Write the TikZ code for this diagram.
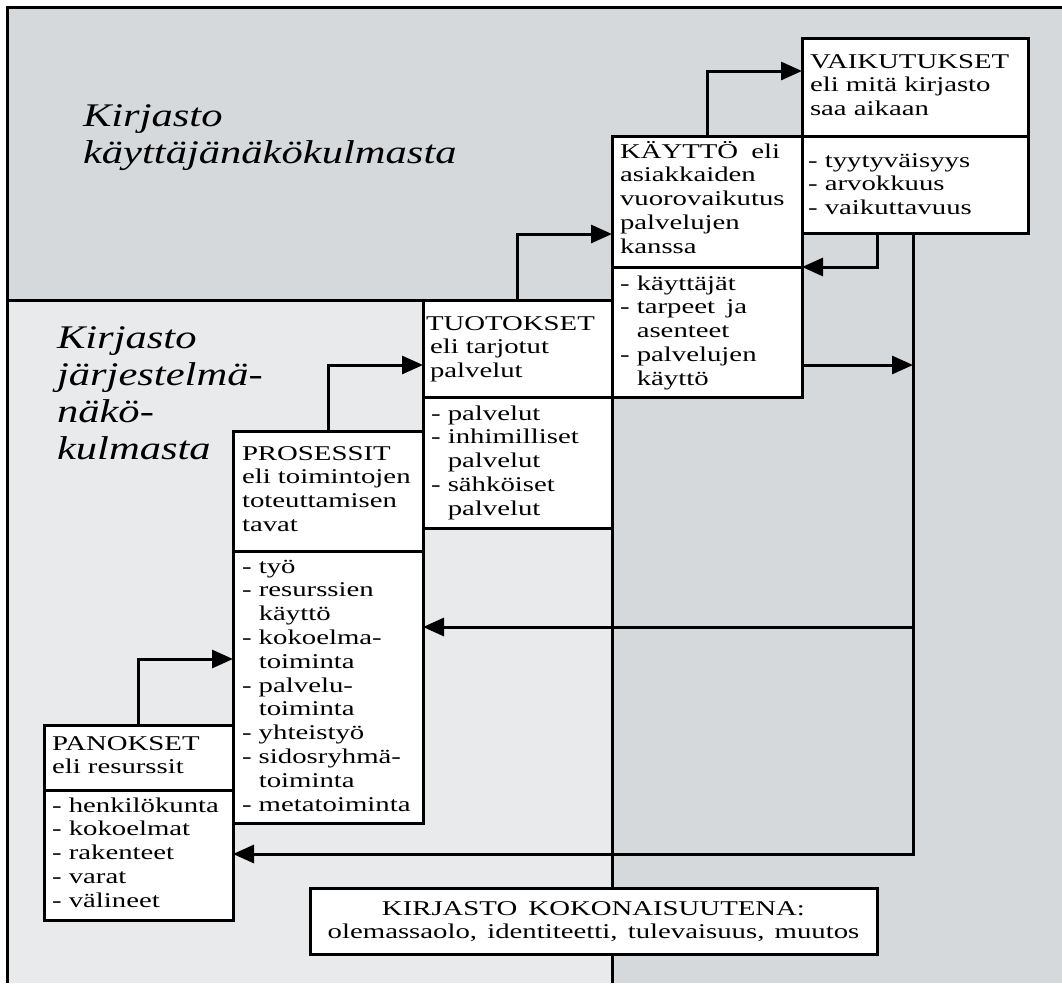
\documentclass[tikz,border=0pt]{standalone}
\usepackage{fontspec}
\setmainfont{Liberation Serif}[FakeStretch=1.37]
\newfontfamily\labfont{Liberation Serif}[FakeStretch=1.29]
\usetikzlibrary{arrows.meta,calc}
\definecolor{bgdark}{RGB}{214,217,220}
\definecolor{bglight}{RGB}{233,234,236}
\newcommand\hind{\phantom{- }}
\begin{document}
\begin{tikzpicture}[x=1pt,y=-1pt,
  box/.style={draw=black, line width=3pt, fill=white, inner sep=0pt, outer sep=0pt, anchor=north west},
  txt/.style={inner sep=0pt, outer sep=0pt, anchor=north west, align=left, font=\fontsize{21}{23.8}\selectfont},
  lab/.style={inner sep=0pt, outer sep=0pt, anchor=north west, align=left, font=\labfont\fontsize{33}{37}\selectfont\itshape},
  arr/.style={line width=3pt, -{Triangle[length=21pt,width=18pt]}},
  ln/.style={line width=3pt}]
\useasboundingbox (0,0) rectangle (1062,983);
\fill[white] (0,0) rectangle (1062,983);
% backgrounds
\fill[bgdark] (7,7) rectangle (1062,300);
\fill[bgdark] (612,300) rectangle (1062,983);
\fill[bglight] (7,300) rectangle (612,983);
\draw[ln] (1062,7) -- (7,7) -- (7,983);
\draw[ln] (7,300) -- (612,300);
\draw[ln] (612,300) -- (612,983);

% boxes
\node[box, minimum width=226pt, minimum height=98pt] (vaiA) at (802,38) {};
\node[box, minimum width=226pt, minimum height=97pt] (vaiB) at (802,136) {};
\node[box, minimum width=190pt, minimum height=131pt] (kayA) at (612,136) {};
\node[box, minimum width=190pt, minimum height=130pt] (kayB) at (612,267) {};
\node[box, minimum width=189pt, minimum height=97pt] (tuoA) at (423,300) {};
\node[box, minimum width=189pt, minimum height=131pt] (tuoB) at (423,397) {};
\node[box, minimum width=190pt, minimum height=120pt] (proA) at (233,431) {};
\node[box, minimum width=190pt, minimum height=272pt] (proB) at (233,551) {};
\node[box, minimum width=189pt, minimum height=65pt] (panA) at (44,725) {};
\node[box, minimum width=189pt, minimum height=130pt] (panB) at (44,790) {};
\node[box, minimum width=567pt, minimum height=66pt] (kir) at (310,888) {};

% connector coordinates
\coordinate (busTop) at ($(vaiB.south west)+(111,0)$);
\coordinate (panIn) at ($(panB.north east)+(0,64)$);
\coordinate (proIn) at ($(proB.north east)+(0,76)$);
\coordinate (kayOut) at ($(kayB.north east)+(0,98)$);

% connectors
\draw[arr] (panA.north) |- ($(proB.north west)+(0,108)$);
\draw[arr] (proA.north) |- ($(tuoA.north west)+(0,65)$);
\draw[arr] (tuoA.north) |- ($(kayA.north west)+(0,98)$);
\draw[arr] (kayA.north) |- ($(vaiA.north west)+(0,33)$);
\draw[arr] ($(vaiB.south west)+(75,0)$) |- (kayA.south east);
\draw[arr] (busTop) |- (panIn);
\draw[arr] (busTop |- proIn) -- (proIn);
\draw[arr] (kayOut) -- (kayOut -| busTop);

% texts
\node[txt] (vaiAt) at ([xshift=8pt]vaiA.north west) {\rule{0pt}{30pt}VAIKUTUKSET\\eli mitä kirjasto\\saa aikaan};
\node[txt] (vaiBt) at ([xshift=6pt]vaiB.north west) {\rule{0pt}{31pt}- tyytyväisyys\\- arvokkuus\\- vaikuttavuus};
\node[txt] (kayAt) at ([xshift=8pt]kayA.north west) {\rule{0pt}{22pt}KÄYTTÖ\hspace{6pt} eli\\asiakkaiden\\vuorovaikutus\\palvelujen\\kanssa};
\node[txt] (kayBt) at ([xshift=8pt]kayB.north west) {\rule{0pt}{23pt}- käyttäjät\\- tarpeet\hspace{4pt} ja\\\hind asenteet\\- palvelujen\\\hind käyttö};
\node[txt] (tuoAt) at ([xshift=3pt]tuoA.north west) {\rule{0pt}{30pt}TUOTOKSET\\\hspace*{4pt}eli tarjotut\\\hspace*{4pt}palvelut};
\node[txt] (tuoBt) at ([xshift=8pt]tuoB.north west) {\rule{0pt}{23pt}- palvelut\\- inhimilliset\\\hind palvelut\\- sähköiset\\\hind palvelut};
\node[txt] (proAt) at ([xshift=9pt]proA.north west) {\rule{0pt}{29pt}PROSESSIT\\eli toimintojen\\toteuttamisen\\tavat};
\node[txt] (proBt) at ([xshift=9pt]proB.north west) {\rule{0pt}{22pt}- työ\\- resurssien\\\hind käyttö\\- kokoelma-\\\hind toiminta\\- palvelu-\\\hind toiminta\\- yhteistyö\\- sidosryhmä-\\\hind toiminta\\- metatoiminta};
\node[txt] (panAt) at ([xshift=8pt]panA.north west) {\rule{0pt}{25pt}PANOKSET\\eli resurssit};
\node[txt] (panBt) at ([xshift=8pt]panB.north west) {\rule{0pt}{22pt}- henkilökunta\\- kokoelmat\\- rakenteet\\- varat\\- välineet};
\node[txt, anchor=north, align=center] (kirt) at (kir.north) {\rule{0pt}{27pt}KIRJASTO\hspace{4pt} KOKONAISUUTENA:\\olemassaolo,\hspace{3pt} identiteetti,\hspace{3pt} tulevaisuus,\hspace{3pt} muutos};

% italic labels
\node[lab] (lab1) at (83,96) {\rule{0pt}{30pt}Kirjasto\\käyttäjänäkökulmasta};
\node[lab] (lab2) at (57,318) {\rule{0pt}{30pt}Kirjasto\\järjestelmä-\\näkö-\\kulmasta};
\end{tikzpicture}
\end{document}
